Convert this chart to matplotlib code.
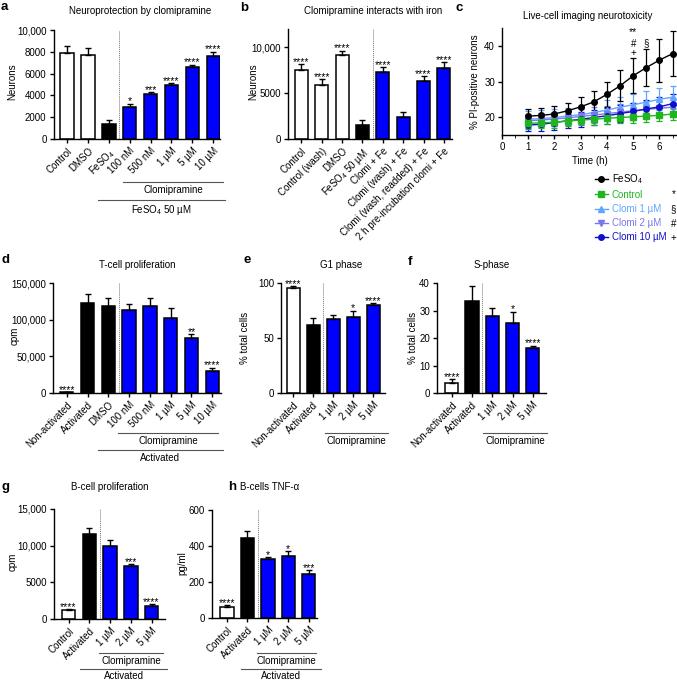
import matplotlib
matplotlib.use('Agg')
import matplotlib.pyplot as plt
from matplotlib.transforms import blended_transform_factory
from matplotlib.lines import Line2D
import numpy as np

W, H = 677, 682
plt.rcParams['font.family'] = ['Liberation Sans', 'DejaVu Sans']
plt.rcParams['mathtext.fontset'] = 'custom'
plt.rcParams['mathtext.rm'] = 'Liberation Sans'
plt.rcParams['mathtext.default'] = 'regular'
plt.rcParams['font.size'] = 7
plt.rcParams['axes.linewidth'] = 1.0

BLUE = '#0000ff'

# ---- data ----
# a
a_labels = ['Control', 'DMSO', 'FeSO$_4$', '100 nM', '500 nM', '1 µM', '5 µM', '10 µM']
a_vals = [7900, 7750, 1400, 2900, 4100, 5000, 6650, 7600]
a_errs = [650, 620, 350, 350, 200, 150, 180, 400]
a_cols = ['w', 'w', 'k', BLUE, BLUE, BLUE, BLUE, BLUE]
a_stars = ['', '', '', '*', '***', '****', '****', '****']
# b
b_labels = ['Control', 'Control (wash)', 'DMSO', 'FeSO$_4$ 50 µM', 'Clomi + Fe',
            'Clomi (wash) + Fe', 'Clomi (wash, readded) + Fe', '2 h pre-incubation clomi + Fe']
b_vals = [7540, 5880, 9120, 1580, 7320, 2390, 6290, 7790]
b_errs = [620, 620, 510, 440, 550, 550, 590, 630]
b_cols = ['w', 'w', 'w', 'k', BLUE, BLUE, BLUE, BLUE]
b_stars = ['****', '****', '****', '', '****', '', '****', '****']
# c
c_time = [1, 1.5, 2, 2.5, 3, 3.5, 4, 4.5, 5, 5.5, 6, 6.5]
c_fe = [20.3, 20.5, 20.9, 21.8, 22.9, 24.3, 26.4, 28.8, 31.6, 33.9, 36.0, 37.8]
c_fe_err = [1.9, 2.0, 2.1, 2.3, 2.7, 3.0, 3.5, 4.3, 4.9, 5.2, 6.0, 6.3]
c_ctrl = [18.3, 18.4, 18.6, 18.9, 19.2, 19.4, 19.7, 19.9, 20.1, 20.3, 20.5, 20.9]
c_ctrl_err = [1.5, 1.5, 1.5, 1.5, 1.5, 1.6, 1.6, 1.6, 1.6, 1.7, 1.7, 1.7]
c_cl1 = [19.4, 19.6, 19.9, 20.3, 20.7, 21.3, 22.0, 22.8, 23.5, 24.2, 25.0, 25.6]
c_cl1_err = [2.3, 2.3, 2.4, 2.4, 2.5, 2.6, 2.7, 2.8, 3.0, 3.0, 3.1, 3.2]
c_cl2 = [19.0, 19.2, 19.5, 19.8, 20.2, 20.6, 21.0, 21.4, 21.8, 22.2, 22.5, 22.8]
c_cl2_err = [2.0, 2.0, 2.0, 2.1, 2.1, 2.2, 2.2, 2.3, 2.3, 2.4, 2.4, 2.5]
c_cl10 = [17.8, 18.0, 18.5, 19.0, 19.4, 19.9, 20.4, 21.0, 21.6, 22.3, 22.9, 23.8]
c_cl10_err = [1.8, 1.9, 2.0, 2.0, 2.1, 2.2, 2.3, 2.4, 2.5, 2.6, 2.7, 2.8]
# d
d_labels = ['Non-activated', 'Activated', 'DMSO', '100 nM', '500 nM', '1 µM', '5 µM', '10 µM']
d_vals = [1000, 123000, 118000, 113000, 118000, 102000, 74400, 29700]
d_errs = [500, 12000, 11000, 8000, 11000, 13500, 6000, 5000]
d_cols = ['w', 'k', 'k', BLUE, BLUE, BLUE, BLUE, BLUE]
d_stars = ['****', '', '', '', '', '', '**', '****']
# e
e_labels = ['Non-activated', 'Activated', '1 µM', '2 µM', '5 µM']
e_vals = [95.4, 61.6, 67.4, 69.5, 80.2]
e_errs = [1.5, 6.4, 3.7, 5.5, 1.5]
e_stars = ['****', '', '', '*', '****']
# f
f_labels = ['Non-activated', 'Activated', '1 µM', '2 µM', '5 µM']
f_vals = [3.7, 33.3, 28.0, 25.6, 16.2]
f_errs = [1.3, 5.5, 2.8, 4.0, 1.0]
f_stars = ['****', '', '', '*', '****']
# g
g_labels = ['Control', 'Activated', '1 µM', '2 µM', '5 µM']
g_vals = [1180, 11600, 10000, 7200, 1730]
g_errs = [180, 800, 800, 300, 320]
g_stars = ['****', '', '', '***', '****']
# h
h_labels = ['Control', 'Activated', '1 µM', '2 µM', '5 µM']
h_vals = [61, 446, 330, 343, 246]
h_errs = [9, 37, 9, 29, 19]
h_stars = ['****', '', '*', '*', '***']
five_cols = ['w', 'k', BLUE, BLUE, BLUE]

fig = plt.figure(figsize=(W / 100, H / 100), dpi=100)


def px_axes(l, t, r, b):
    return fig.add_axes([l / W, 1 - b / H, (r - l) / W, (b - t) / H])


def style(ax):
    ax.spines['top'].set_visible(False)
    ax.spines['right'].set_visible(False)
    ax.tick_params(length=3, width=1, pad=2, labelsize=7)


def bars(ax, labels, vals, errs, cols, stars, divider, xlim, ylim, yticks, ytl):
    x = np.arange(len(vals))
    ax.bar(x, vals, width=0.65, color=cols, edgecolor='k', linewidth=1.1, zorder=2)
    ax.errorbar(x, vals, yerr=[np.zeros(len(errs)), errs], fmt='none', ecolor='k',
                elinewidth=1, capsize=2.5, capthick=1, zorder=3)
    for xi, v, e, s in zip(x, vals, errs, stars):
        if s:
            ax.annotate(s, (xi, v + e), xytext=(0, -2), textcoords='offset points',
                        ha='center', va='bottom', fontsize=7.5)
    ax.axvline(divider, color='#777777', ls=(0, (1, 1)), lw=0.7, zorder=1)
    style(ax)
    ax.set_xlim(*xlim)
    ax.set_ylim(*ylim)
    ax.set_yticks(yticks)
    ax.set_yticklabels(ytl)
    ax.set_xticks(x)
    ax.set_xticklabels(labels, rotation=45, ha='right', va='top', rotation_mode='anchor')


def group(ax, x0, x1, ypx, text, typx):
    tr = blended_transform_factory(ax.transData, fig.transFigure)
    ax.plot([x0, x1], [1 - ypx / H] * 2, transform=tr, color='#555555', lw=0.8,
            clip_on=False, scalex=False, scaley=False)
    ax.text((x0 + x1) / 2, 1 - typx / H, text, transform=tr, ha='center', va='center', fontsize=7)


def ftext(x, y, s, **kw):
    fig.text(x / W, 1 - y / H, s, **kw)


# ---- a ----
ax = px_axes(53.5, 30, 220, 139)
bars(ax, a_labels, a_vals, a_errs, a_cols, a_stars, 2.5, (-0.64, 7.32), (0, 10000),
     [0, 2000, 4000, 6000, 8000, 10000], ['0', '2000', '4000', '6000', '8000', '10,000'])
group(ax, 2.69, 7.46, 182, 'Clomipramine', 190)
group(ax, 1.5, 7.56, 200, 'FeSO$_4$ 50 µM', 210)

# ---- b ----
ax = px_axes(288, 29, 452, 139)
bars(ax, b_labels, b_vals, b_errs, b_cols, b_stars, 3.5, (-0.66, 7.4), (0, 12000),
     [0, 5000, 10000], ['0', '5000', '10,000'])

# ---- c ----
ax = px_axes(502, 28, 677, 135)
fe = (c_fe, c_fe_err, 'k', 'o', 'FeSO$_4$')
ctrl = (c_ctrl, c_ctrl_err, '#1fb51f', 's', 'Control')
cl1 = (c_cl1, c_cl1_err, '#5ea6ff', '^', 'Clomi 1 µM')
cl2 = (c_cl2, c_cl2_err, '#7a76ee', 'v', 'Clomi 2 µM')
cl10 = (c_cl10, c_cl10_err, '#1010cc', 'o', 'Clomi 10 µM')
for v, e, c, m, lab in [cl1, cl2, cl10, ctrl, fe]:
    ax.errorbar(c_time, v, yerr=e, color=c, marker=m, ms=4, lw=1, elinewidth=0.9,
                capsize=2.5, capthick=0.9)
style(ax)
ax.set_xlim(0, 6.67)
ax.set_ylim(15, 45)
ax.set_xticks(range(7))
ax.set_xticks(np.arange(0.5, 6.6, 1), minor=True)
ax.tick_params(which='minor', length=2)
ax.set_yticks([20, 30, 40])
ax.set_xlabel('Time (h)', labelpad=3)
ax.text(5, 43.9, '**', ha='center', va='center', fontsize=7.5)
ax.text(5, 40.5, '#', ha='center', va='center', fontsize=7)
ax.text(5, 38.0, '+', ha='center', va='center', fontsize=7)
ax.text(5.5, 40.8, '§', ha='center', va='center', fontsize=7)

legend_order = [fe, ctrl, cl1, cl2, cl10]
handles = [Line2D([], [], color=c, marker=m, ms=4, lw=1) for v, e, c, m, lab in legend_order]
leg_labels = [lab for v, e, c, m, lab in legend_order]
fig.legend(handles, leg_labels, loc='upper left', bbox_to_anchor=(595 / W, 1 - 172 / H),
           frameon=False, fontsize=7, handlelength=1.3, handletextpad=0.4,
           labelspacing=0.42, borderaxespad=0, borderpad=0, labelcolor='linecolor')
for sym, y in zip(['*', '§', '#', '+'], [194, 209, 224, 238]):
    ftext(676, y, sym, ha='right', va='center', fontsize=7)

# ---- d ----
ax = px_axes(53, 283, 220.6, 393)
bars(ax, d_labels, d_vals, d_errs, d_cols, d_stars, 2.5, (-0.66, 7.4), (0, 150000),
     [0, 50000, 100000, 150000], ['0', '50,000', '100,000', '150,000'])
group(ax, 2.47, 7.27, 433, 'Clomipramine', 441)
group(ax, 1.5, 7.5, 450, 'Activated', 458)

# ---- e ----
ax = px_axes(281, 283, 385, 393)
bars(ax, e_labels, e_vals, e_errs, five_cols, e_stars, 1.5, (-0.6, 4.6), (0, 100),
     [0, 50, 100], ['0', '50', '100'])
group(ax, 1.6, 4.75, 433, 'Clomipramine', 441)

# ---- f ----
ax = px_axes(437, 283, 546, 393)
bars(ax, f_labels, f_vals, f_errs, five_cols, f_stars, 1.5, (-0.72, 4.65), (0, 40),
     [0, 10, 20, 30, 40], ['0', '10', '20', '30', '40'])
group(ax, 1.55, 4.7, 433, 'Clomipramine', 441)

# ---- g ----
ax = px_axes(54, 509, 165, 619)
bars(ax, g_labels, g_vals, g_errs, five_cols, g_stars, 1.5, (-0.7, 4.65), (0, 15000),
     [0, 5000, 10000, 15000], ['0', '5000', '10,000', '15,000'])
group(ax, 1.47, 4.55, 653, 'Clomipramine', 661)
group(ax, 0.55, 4.75, 669, 'Activated', 676)

# ---- h ----
ax = px_axes(212, 510, 317, 618)
bars(ax, h_labels, h_vals, h_errs, five_cols, h_stars, 1.5, (-0.73, 4.4), (0, 600),
     [0, 200, 400, 600], ['0', '200', '400', '600'])
group(ax, 1.46, 4.37, 653, 'Clomipramine', 661)
group(ax, 0.68, 4.6, 669, 'Activated', 676)

# ---- titles, y labels, panel letters ----
for x, y, s in [(140, 11, 'Neuroprotection by clomipramine'),
                (373, 11, 'Clomipramine interacts with iron'),
                (588, 16, 'Live-cell imaging neurotoxicity'),
                (137, 265, 'T-cell proliferation'),
                (341, 265, 'G1 phase'),
                (492, 265, 'S-phase'),
                (110, 487, 'B-cell proliferation'),
                (270, 487, 'B-cells TNF-α')]:
    ftext(x, y, s, ha='center', va='center', fontsize=7)

for x, y, s in [(12, 82, 'Neurons'), (253, 82, 'Neurons'), (475, 82, '% PI-positive neurons'),
                (15, 336, 'cpm'), (245, 338, '% total cells'), (413, 338, '% total cells'),
                (13, 562, 'cpm'), (182, 563, 'pg/ml')]:
    ftext(x, y, s, ha='center', va='center', rotation=90, fontsize=7)

for x, y, s in [(1, 1, 'a'), (240, 2, 'b'), (455, 2, 'c'), (1, 254, 'd'), (244, 254, 'e'),
                (408, 256, 'f'), (1, 481, 'g'), (228, 481, 'h')]:
    ftext(x, y, s, ha='left', va='top', fontsize=9.5, fontweight='bold')

fig.savefig('out.png', dpi=100)
